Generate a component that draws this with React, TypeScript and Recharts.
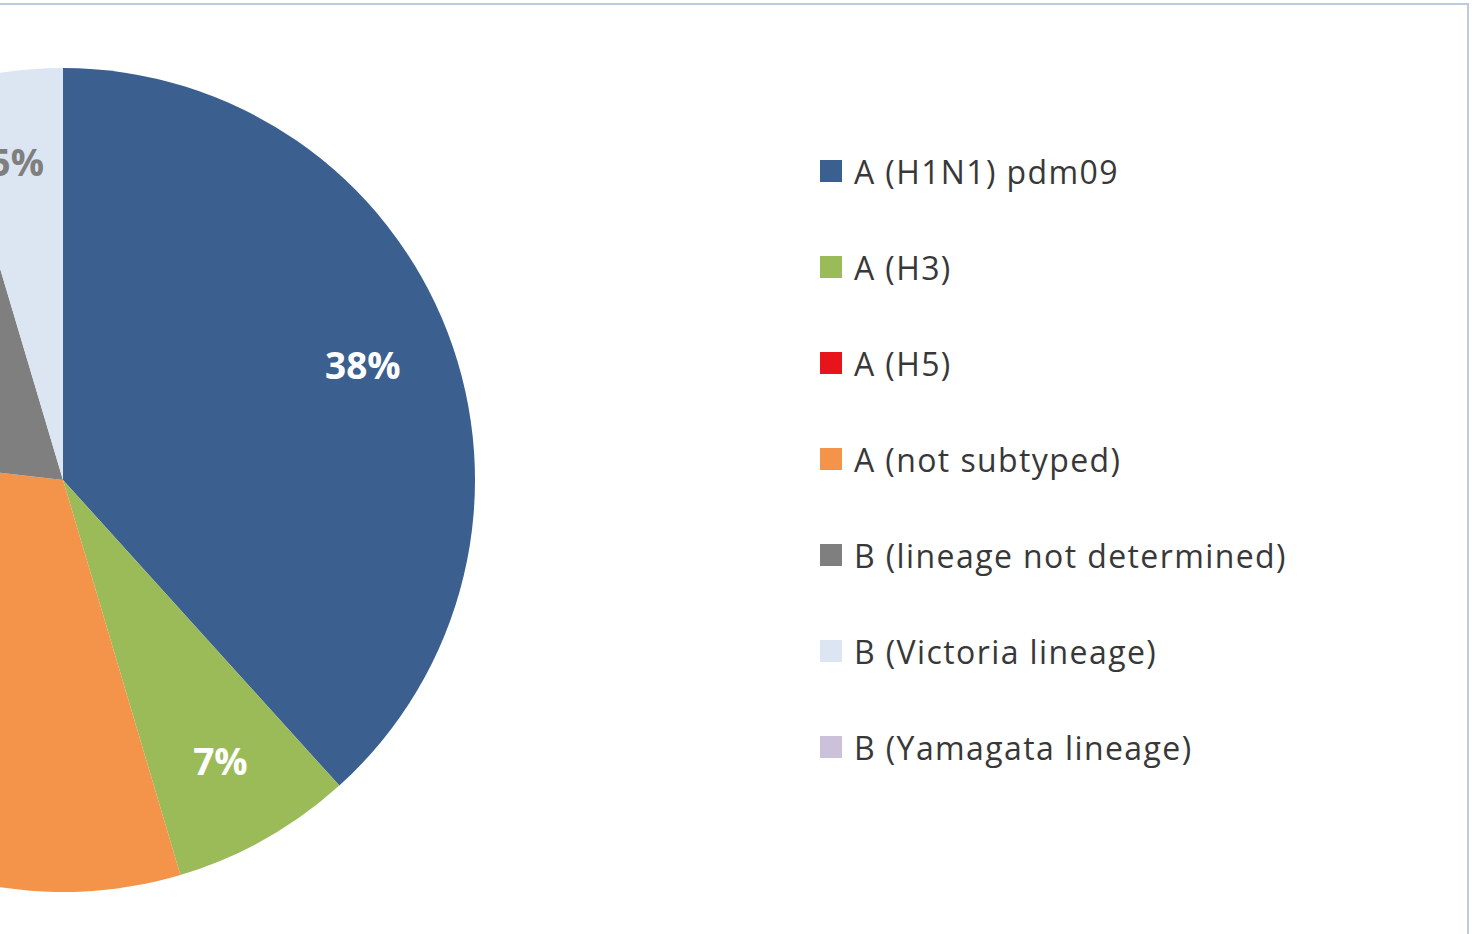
import { PieChart, Pie, Cell, Legend } from 'recharts';

const SUBTYPES = [
  'A (H1N1) pdm09',
  'A (H3)',
  'A (H5)',
  'A (not subtyped)',
  'B (lineage not determined)',
  'B (Victoria lineage)',
  'B (Yamagata lineage)',
];
const SHARES = [38.3, 7.1, 0, 31.4, 18.6, 4.6, 0];
const COLORS = ['#3b5f8f', '#9bbb59', '#e8141c', '#f4944a', '#7f7f7f', '#dce6f2', '#ccc1da'];
const LABEL_COLORS = ['#ffffff', '#ffffff', '#ffffff', '#ffffff', '#ffffff', '#7f7f7f', '#ffffff'];

const data = SUBTYPES.map((name, i) => ({ name, value: SHARES[i] }));

const FONT = '"Open Sans", Lato, sans-serif';
const RAD = Math.PI / 180;

const renderLabel = (props: any) => {
  const { cx, cy, midAngle, outerRadius, percent, index, value } = props;
  if (!value) return null;
  const r = outerRadius * 0.78;
  const x = cx + r * Math.cos(-midAngle * RAD);
  const y = cy + r * Math.sin(-midAngle * RAD);
  return (
    <text
      x={x}
      y={y}
      fill={LABEL_COLORS[index]}
      textAnchor="middle"
      dominantBaseline="central"
      fontFamily={FONT}
      fontWeight={700}
      fontSize={37}
    >
      {`${Math.round(percent * 100)}%`}
    </text>
  );
};

const renderLegend = () => (
  <div style={{ fontFamily: FONT }}>
    {SUBTYPES.map((name, i) => (
      <div
        key={name}
        style={{ display: 'flex', alignItems: 'center', height: 96 }}
      >
        <span
          style={{
            width: 22,
            height: 22,
            background: COLORS[i],
            marginRight: 12,
            display: 'inline-block',
          }}
        />
        <span style={{ fontSize: 32, color: '#383838', letterSpacing: 1.4 }}>{name}</span>
      </div>
    ))}
  </div>
);

export default function App() {
  return (
    <div
      style={{
        position: 'absolute',
        left: 0,
        top: 0,
        width: 1475,
        height: 934,
        overflow: 'hidden',
        background: '#ffffff',
      }}
    >
      <div
        style={{
          position: 'absolute',
          left: -20,
          top: 3,
          width: 1487,
          height: 1000,
          borderTop: '2px solid #bccbdd',
          borderRight: '2px solid #bccbdd',
        }}
      />
      <div style={{ position: 'absolute', left: 0, top: 0 }}>
        <PieChart width={1475} height={934} margin={{ top: 0, right: 0, bottom: 0, left: 0 }}>
          <Pie
            data={data}
            dataKey="value"
            nameKey="name"
            cx={63}
            cy={480}
            outerRadius={412}
            startAngle={90}
            endAngle={-270}
            stroke="none"
            label={renderLabel}
            labelLine={false}
            isAnimationActive={false}
          >
            {data.map((d, i) => (
              <Cell key={d.name} fill={COLORS[i]} />
            ))}
          </Pie>
          <Legend
            content={renderLegend}
            layout="vertical"
            wrapperStyle={{ position: 'absolute', left: 820, top: 123, width: 620 }}
          />
        </PieChart>
      </div>
    </div>
  );
}
